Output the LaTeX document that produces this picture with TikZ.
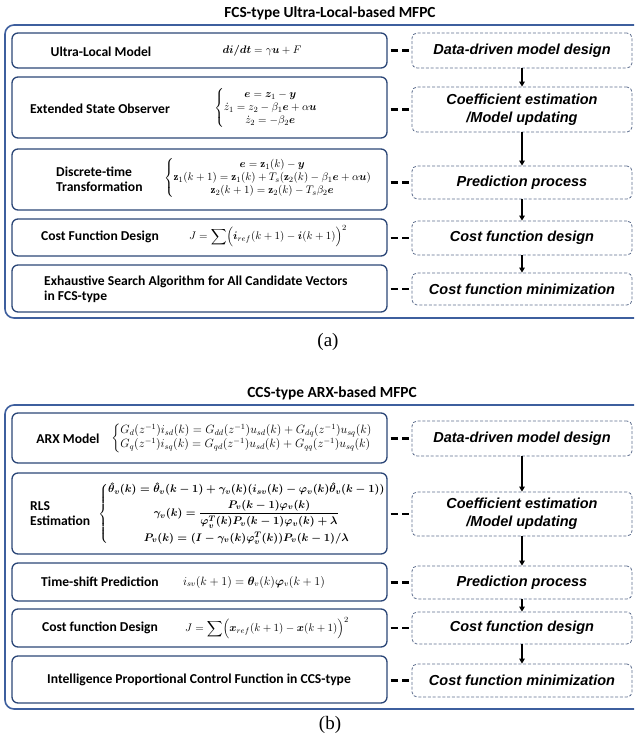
\documentclass[tikz,border=0pt]{standalone}
\usepackage{amsmath,bm}
\usepackage{fontspec}
\newfontfamily\lblfont{Carlito}
\newfontfamily\stepfont{Liberation Sans}
\newfontfamily\capfont{Liberation Serif}
\usetikzlibrary{arrows.meta,fit}

\definecolor{boxblue}{HTML}{2B4677}
\definecolor{frameblue}{HTML}{3E5F9E}
\definecolor{dashblue}{HTML}{5E6E8E}

% formulas of the two schemes
\newcommand{\eqULM}{$\bm{di/dt} = \gamma\bm{u} + F$}
\newcommand{\eqESO}{$\left\{\begin{array}{@{}c@{}}
  \bm{e} = \bm{z}_1 - \bm{y}\\
  \dot{z}_1 = z_2 - \beta_1\bm{e} + \alpha\bm{u}\\
  \dot{z}_2 = -\beta_2\bm{e}
  \end{array}\right.$}
\newcommand{\eqDTT}{$\left\{\begin{array}{@{}c@{}}
  \bm{e} = \mathbf{z}_1(k) - \bm{y}\\
  \mathbf{z}_1(k+1) = \mathbf{z}_1(k) + T_s(\mathbf{z}_2(k) - \beta_1\bm{e} + \alpha\bm{u})\\
  \mathbf{z}_2(k+1) = \mathbf{z}_2(k) - T_s\beta_2\bm{e}
  \end{array}\right.$}
\newcommand{\eqCFa}{$J = \displaystyle\sum\Bigl(\bm{i}_{ref}(k+1) - \bm{i}(k+1)\Bigr)^2$}
\newcommand{\eqARX}{$\left\{\begin{array}{@{}l@{}}
  G_d(z^{-1})i_{sd}(k) = G_{dd}(z^{-1})u_{sd}(k) + G_{dq}(z^{-1})u_{sq}(k)\\
  G_q(z^{-1})i_{sq}(k) = G_{qd}(z^{-1})u_{sd}(k) + G_{qq}(z^{-1})u_{sq}(k)
  \end{array}\right.$}
\newcommand{\eqRLS}{{\boldmath$\left\{\begin{array}{@{}c@{}}
  \hat{\bm{\theta}}_v(k) = \hat{\bm{\theta}}_v(k-1) + \bm{\gamma}_v(k)(i_{sv}(k) - \bm{\varphi}_v(k)\hat{\bm{\theta}}_v(k-1))\rule[-7pt]{0pt}{12pt}\\
  \bm{\gamma}_v(k) = \displaystyle\frac{\bm{P}_v(k-1)\bm{\varphi}_v(k)}{\bm{\varphi}_v^T(k)\bm{P}_v(k-1)\bm{\varphi}_v(k)+\lambda}\rule[-15pt]{0pt}{26pt}\\
  \bm{P}_v(k) = (\bm{I} - \bm{\gamma}_v(k)\bm{\varphi}_v^T(k))\bm{P}_v(k-1)/\lambda
  \end{array}\right.$}}
\newcommand{\eqTSP}{$i_{sv}(k+1) = \bm{\theta}_v(k)\bm{\varphi}_v(k+1)$}
\newcommand{\eqCFb}{$J = \displaystyle\sum\Bigl(\bm{x}_{ref}(k+1) - \bm{x}(k+1)\Bigr)^2$}

\tikzset{
  lbox/.style={draw=boxblue, line width=1.3pt, rounded corners=6pt, inner sep=0pt},
  rbox/.style={draw=dashblue, line width=0.8pt, dash pattern=on 3pt off 1.8pt,
    rounded corners=5pt, inner sep=0pt, align=center,
    minimum width=220pt,
    font=\stepfont\bfseries\itshape\fontsize{14.5}{18}\selectfont},
  outerframe/.style={draw=frameblue, line width=1.6pt, rounded corners=9pt, inner sep=0pt},
  lbl/.style={font=\lblfont\bfseries\fontsize{13.6}{15}\selectfont, inner sep=0pt},
  formula/.style={font=\fontsize{11}{13}\selectfont, inner sep=0pt},
  bigformula/.style={font=\fontsize{11.7}{14}\selectfont, inner sep=0pt},
  dashlink/.style={line width=2.2pt, dash pattern=on 7.5pt off 4pt,
    shorten <=3pt, shorten >=3pt},
  flow/.style={-{Triangle[length=5pt,width=5.5pt]}, line width=1.4pt},
  heading/.style={font=\lblfont\bfseries\fontsize{15.4}{18}\selectfont, inner sep=0pt},
  sublabel/.style={font=\capfont\fontsize{19}{21}\selectfont, inner sep=0pt}
}

\begin{document}
\begin{tikzpicture}[x=1pt, y=-1pt]
\useasboundingbox (0,0) rectangle (634,735);
\clip (0,0) rectangle (634,735);

% ---------------- (a) FCS-type ----------------
\node[heading] (TA) at (330,13) {FCS-type Ultra-Local-based MFPC};
\node[outerframe, fit={(5,25) (660,318)}] (FA) {};

\node[lbox, fit={(12,33) (387,68)}] (A1) {};
\node[lbox, fit={(12,77) (387,138)}] (A2) {};
\node[lbox, fit={(12,149) (387,210)}] (A3) {};
\node[lbox, fit={(12,219) (387,256)}] (A4) {};
\node[lbox, fit={(12,265) (387,312)}] (A5) {};

\node[lbl] (A1t) at (101,52) {Ultra-Local Model};
\node[formula] (A1e) at (262,51) {\eqULM};

\node[lbl] (A2t) at (100,109) {Extended State Observer};
\node[formula] (A2e) at (266,108) {\eqESO};

\node[lbl, align=left, anchor=west] (A3t) at (56,179) {Discrete-time\\Transformation};
\node[formula] (A3e) at (268,178) {\eqDTT};

\node[lbl] (A4t) at (100,237) {Cost Function Design};
\node[formula] (A4e) at (268,236) {\eqCFa};

\node[lbl, align=left, anchor=west] (A5t) at (44,289) {Exhaustive Search Algorithm for All Candidate Vectors\\in FCS-type};

\node[rbox, minimum height=35pt] (B1) at (522,50.5) {Data-driven model design};
\node[rbox, minimum height=45pt] (B2) at (522,109.5) {Coefficient estimation\\/Model updating};
\node[rbox, minimum height=33pt] (B3) at (522,182.5) {Prediction process};
\node[rbox, minimum height=34pt] (B4) at (522,238) {Cost function design};
\node[rbox, minimum height=32pt] (B5) at (522,289) {Cost function minimization};

\foreach \i in {1,...,5} {
  \draw[dashlink] (A\i.east |- B\i.west) -- (B\i.west);
}
\draw[flow] (B1) -- (B2);
\draw[flow] (B2) -- (B3);
\draw[flow] (B3) -- (B4);
\draw[flow] (B4) -- (B5);

\node[sublabel] (CA) at (328,342) {(a)};

% ---------------- (b) CCS-type ----------------
\node[heading] (TB) at (332,393) {CCS-type ARX-based MFPC};
\node[outerframe, fit={(5,405) (660,709)}] (FB) {};

\node[lbox, fit={(12,413) (387,463)}] (C1) {};
\node[lbox, fit={(12,473) (387,554)}] (C2) {};
\node[lbox, fit={(12,563) (387,601)}] (C3) {};
\node[lbox, fit={(12,609) (387,647)}] (C4) {};
\node[lbox, fit={(12,656) (387,703)}] (C5) {};

\node[lbl] (C1t) at (68,439) {ARX Model};
\node[bigformula] (C1e) at (242,438) {\eqARX};

\node[lbl, align=left, anchor=west] (C2t) at (30,514) {RLS\\Estimation};
\node[bigformula, font=\fontsize{10.9}{14}\selectfont] (C2e) at (242,514) {\eqRLS};

\node[lbl] (C3t) at (100,582) {Time-shift Prediction};
\node[formula, font=\fontsize{12}{14}\selectfont] (C3e) at (254,582) {\eqTSP};

\node[lbl] (C4t) at (100,628) {Cost function Design};
\node[formula] (C4e) at (267,628) {\eqCFb};

\node[lbl] (C5t) at (199,680) {Intelligence Proportional Control Function in CCS-type};

\node[rbox, minimum height=35pt] (D1) at (522,438.5) {Data-driven model design};
\node[rbox, minimum height=44pt] (D2) at (522,514) {Coefficient estimation\\/Model updating};
\node[rbox, minimum height=33pt] (D3) at (522,582.5) {Prediction process};
\node[rbox, minimum height=32pt] (D4) at (522,628) {Cost function design};
\node[rbox, minimum height=33pt] (D5) at (522,680.5) {Cost function minimization};

\foreach \i in {1,...,5} {
  \draw[dashlink] (C\i.east |- D\i.west) -- (D\i.west);
}
\draw[flow] (D1) -- (D2);
\draw[flow] (D2) -- (D3);
\draw[flow] (D3) -- (D4);
\draw[flow] (D4) -- (D5);

\node[sublabel] (CB) at (330,725) {(b)};
\end{tikzpicture}
\end{document}
